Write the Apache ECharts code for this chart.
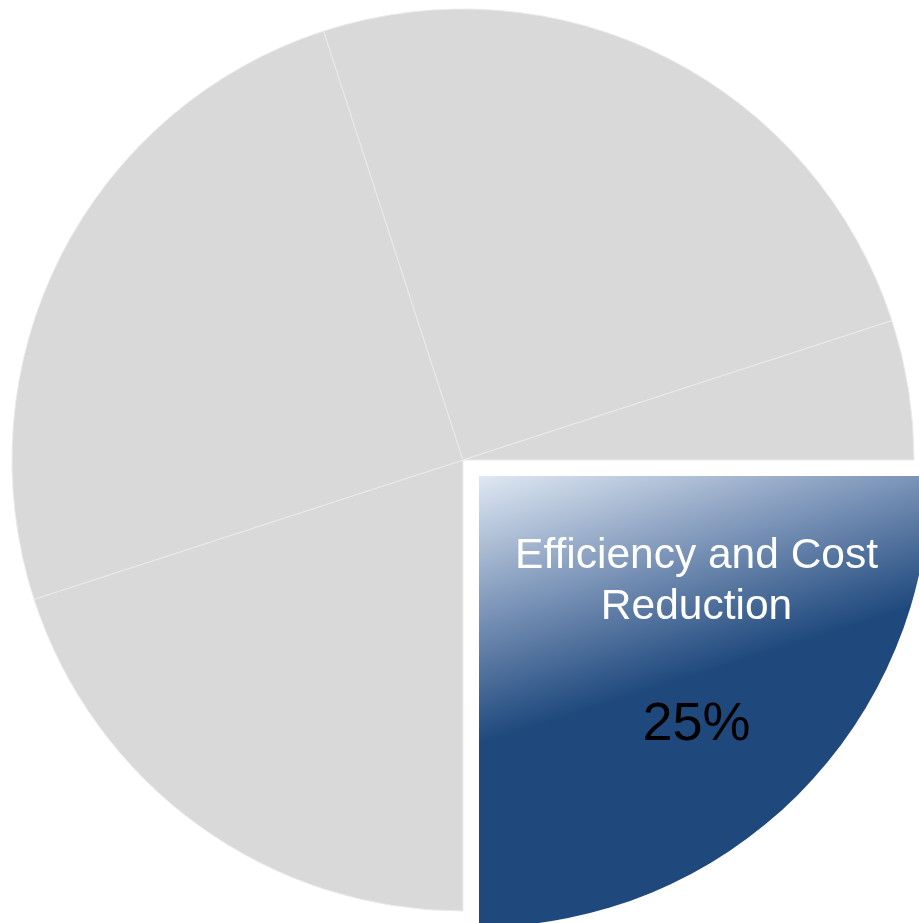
<!DOCTYPE html>
<html>
<head>
<meta charset="utf-8">
<script src="https://cdn.jsdelivr.net/npm/echarts@6/dist/echarts.min.js"></script>
<style>
html,body{margin:0;padding:0;background:#fff;}
#chart{width:919px;height:923px;}
</style>
</head>
<body>
<div id="chart"></div>
<script>
// Data (clockwise from 3 o'clock)
var categories = ['Efficiency and Cost Reduction', 'Other A', 'Other B', 'Other C', 'Other D'];
var values = [25, 20, 25, 25, 5];
var highlighted = [true, false, false, false, false];

var chart = echarts.init(document.getElementById('chart'), null, {renderer: 'canvas'});

var greyStyle = {color: '#d9d9d9', borderColor: '#ebebeb', borderWidth: 1};
var hiStyle = {
  color: {
    type: 'linear', x: 0, y: 0, x2: 0.17, y2: 0.54,
    colorStops: [
      {offset: 0, color: '#dfe8f3'},
      {offset: 0.5, color: '#7f97ba'},
      {offset: 1, color: '#1f497d'}
    ]
  },
  borderWidth: 0
};

var data = categories.map(function (name, i) {
  var item = {name: name, value: values[i]};
  if (highlighted[i]) {
    item.selected = true;
    item.itemStyle = hiStyle;
    item.select = {itemStyle: hiStyle};
    item.label = {
      show: true,
      position: 'inside',
      padding: [0, 10, 40, 122],
      formatter: function (p) {
        return '{name|Efficiency and Cost}\n{name|Reduction}\n{val|' + p.percent.toFixed(0) + '%}';
      },
      rich: {
        name: {fontFamily: 'Liberation Sans, Arial, sans-serif', fontSize: 42.5, color: '#ffffff', lineHeight: 51, align: 'center'},
        val: {fontFamily: 'Liberation Sans, Arial, sans-serif', fontSize: 54, color: '#000000', lineHeight: 72, padding: [114, 0, 0, 0], align: 'center'}
      }
    };
  } else {
    item.itemStyle = greyStyle;
    item.label = {show: false};
  }
  return item;
});

chart.setOption({
  animation: false,
  backgroundColor: '#ffffff',
  series: [{
    type: 'pie',
    center: [463, 460],
    radius: 451,
    startAngle: 0,
    clockwise: true,
    selectedMode: 'single',
    selectedOffset: 22.6,
    avoidLabelOverlap: false,
    labelLine: {show: false},
    emphasis: {disabled: true},
    select: {itemStyle: {borderWidth: 0}},
    data: data
  }]
});
</script>
</body>
</html>
